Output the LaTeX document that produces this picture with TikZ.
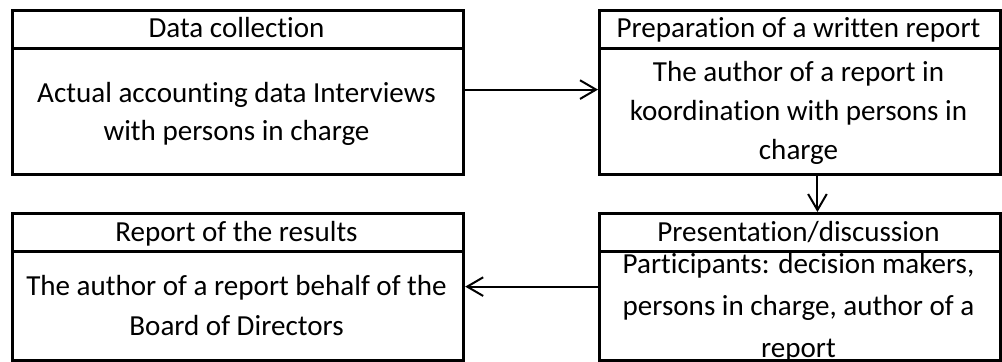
\documentclass[tikz,border=0pt]{standalone}
\usepackage{fontspec}
\setmainfont{Carlito}[Ligatures=NoCommon]
\usetikzlibrary{arrows.meta}
\begin{document}
\begin{tikzpicture}[x=0.75pt,y=-0.75pt,
  boxpart/.style={draw,line width=2.4pt,rectangle,inner sep=0pt,anchor=north west},
  lbl/.style={anchor=base,inner sep=0pt,align=center,font=\fontsize{21.8}{29}\selectfont},
  flow/.style={line width=1.5pt,-{Straight Barb[length=12pt,width=14pt,line width=1.5pt]}}]
\useasboundingbox (0,0) rectangle (1002,361);
% texts (anchor = baseline of last line)
\node[lbl] (t1) at (236.5,37) {Data collection};
\node[lbl] (t2) at (798.5,37) {Preparation of a written report};
\node[lbl] (t3) at (236.5,241) {Report of the results};
\node[lbl] (t4) at (798.5,241) {Presentation/discussion};
\node[lbl,font=\fontsize{21.8}{28.5}\selectfont] (u1) at (236.5,140) {Actual accounting data Interviews\\with persons in charge};
\node[lbl] (u2) at (798.5,159) {The author of a report in\\koordination with persons in\\charge};
\node[lbl,font=\fontsize{21.8}{30}\selectfont] (u3) at (236.5,335) {The author of a report behalf of the\\Board of Directors};
\node[lbl,font=\fontsize{21.8}{31.5}\selectfont] (u4) at (798.5,357) {Participants: decision makers,\\persons in charge, author of a\\report};
% boxes
\node[boxpart,minimum width=338.25pt,minimum height=28.5pt] (h1) at (11,9) {};
\node[boxpart,minimum width=338.25pt,minimum height=94.5pt] (b1) at (11,47) {};
\node[boxpart,minimum width=300.75pt,minimum height=28.5pt] (h2) at (598,9) {};
\node[boxpart,minimum width=300.75pt,minimum height=94.5pt] (b2) at (598,47) {};
\node[boxpart,minimum width=338.25pt,minimum height=28.5pt] (h3) at (11,212) {};
\node[boxpart,minimum width=338.25pt,minimum height=81.75pt] (b3) at (11,250) {};
\node[boxpart,minimum width=300.75pt,minimum height=28.5pt] (h4) at (598,212) {};
\node[boxpart,minimum width=300.75pt,minimum height=81.75pt] (b4) at (598,250) {};
% connectors
\draw[flow] ([yshift=16.5pt]b1.east) -- ([yshift=16.5pt]b2.west);
\draw[flow] ([xshift=13pt]b2.south) -- ([xshift=13pt]h4.north);
\draw[flow] ([yshift=14.6pt]b4.west) -- ([yshift=14.6pt]b3.east);
\end{tikzpicture}
\end{document}
